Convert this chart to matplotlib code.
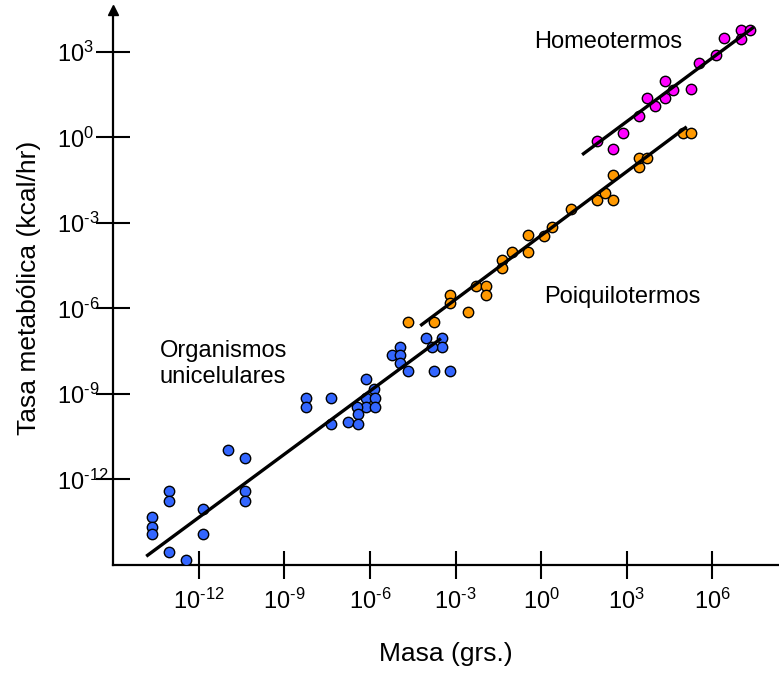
import numpy as np
import matplotlib
matplotlib.use("Agg")
import matplotlib.pyplot as plt

plt.rcParams['font.family'] = ['Liberation Sans', 'DejaVu Sans']
plt.rcParams['mathtext.fontset'] = 'custom'
plt.rcParams['mathtext.rm'] = 'Liberation Sans'
plt.rcParams['mathtext.default'] = 'regular'

# log10 of mass (g) and metabolic rate (kcal/hr)
uni_mass = [-10.98, -10.39, -13.05, -13.05, -10.39, -10.39, -11.86, -13.65, -13.65, -13.65,
            -11.86, -13.05, -12.46, -8.25, -8.25, -7.38, -6.15, -5.87, -6.15, -5.84,
            -6.15, -5.84, -6.47, -6.43, -6.78, -6.43, -7.38, -4.96, -5.24, -4.96,
            -4.96, -4.65, -4.05, -3.49, -3.49, -3.81, -3.77, -3.18]
uni_rate = [-10.95, -11.23, -12.42, -12.74, -12.42, -12.74, -13.02, -13.33, -13.65, -13.93,
            -13.93, -14.56, -14.84, -9.13, -9.44, -9.13, -8.49, -8.81, -9.13, -9.13,
            -9.44, -9.44, -9.44, -9.69, -10.00, -10.04, -10.04, -7.34, -7.62, -7.62,
            -7.90, -8.21, -7.02, -7.02, -7.34, -7.34, -8.21, -8.21]

poi_mass = [-4.65, -3.77, -2.58, -3.18, -3.18, -2.27, -1.95, -1.95, -1.36, -1.36,
            -1.04, -0.48, -0.48, 0.11, 0.39, 1.03, 1.94, 2.25, 2.53, 2.53,
            3.41, 3.41, 3.72, 4.95, 5.26]
poi_rate = [-6.46, -6.46, -6.11, -5.52, -5.80, -5.20, -5.20, -5.52, -4.29, -4.57,
            -4.01, -4.01, -3.41, -3.45, -3.13, -2.50, -2.19, -1.94, -2.19, -1.31,
            -1.03, -0.71, -0.71, 0.16, 0.16]

hom_mass = [1.94, 2.50, 2.85, 3.41, 3.72, 4.00, 4.32, 4.32, 4.63, 5.23,
            5.51, 6.14, 6.42, 7.01, 7.33, 7.01]
hom_rate = [-0.12, -0.40, 0.16, 0.76, 1.39, 1.11, 1.39, 1.99, 1.67, 1.70,
            2.62, 2.90, 3.49, 3.77, 3.77, 3.46]

# fitted lines (log10 endpoints)
uni_fit_x = [-13.79, -3.56]
uni_fit_y = [-14.66, -7.09]
poi_fit_x = [-4.19, 5.05]
poi_fit_y = [-6.57, 0.34]
hom_fit_x = [1.48, 7.40]
hom_fit_y = [-0.57, 3.84]

ticks = [-12, -9, -6, -3, 0, 3, 6]
ytick_vals = [-12, -9, -6, -3, 0, 3]

fig = plt.figure(figsize=(7.79, 6.73), dpi=100)
ax = fig.add_axes([0.1451, 0.1605, 0.8549, 0.8245])
ax.set_xscale('log')
ax.set_yscale('log')

groups = [(uni_mass, uni_rate, '#3366ff'),
          (poi_mass, poi_rate, '#ff9900'),
          (hom_mass, hom_rate, '#ff00ff')]
for mx, ry, col in groups:
    ax.scatter(10.0 ** np.array(mx), 10.0 ** np.array(ry), s=56, color=col,
               edgecolor='black', linewidth=1.0, zorder=3)

for fx, fy in [(uni_fit_x, uni_fit_y), (poi_fit_x, poi_fit_y), (hom_fit_x, hom_fit_y)]:
    ax.plot(10.0 ** np.array(fx), 10.0 ** np.array(fy), color='black', lw=2.4, zorder=4)

ax.set_xlim(10.0 ** -15, 10.0 ** 8.33)
ax.set_ylim(10.0 ** -15, 10.0 ** 4.47)


def pow_label(t):
    return '10$^{\\text{%d}}$' % t


ax.set_xticks([10.0 ** t for t in ticks])
ax.set_xticklabels([pow_label(t) for t in ticks])
ax.set_yticks([10.0 ** t for t in ytick_vals])
ax.set_yticklabels([pow_label(t) for t in ytick_vals], ha='left')
ax.minorticks_off()
ax.tick_params(axis='x', direction='inout', length=20, width=1.5, labelsize=17, pad=7)
ax.tick_params(axis='y', direction='inout', length=24, width=1.5, labelsize=17, pad=28)

for side in ['top', 'right']:
    ax.spines[side].set_visible(False)
for side in ['left', 'bottom']:
    ax.spines[side].set_linewidth(1.6)

# arrow head on the y axis
ax.plot([0], [1], marker='^', color='black', markersize=7,
        transform=ax.transAxes, clip_on=False)

ax.set_xlabel('Masa (grs.)', fontsize=19, labelpad=20)
ax.set_ylabel('Tasa metabólica (kcal/hr)', fontsize=19, labelpad=12)

ax.text(10.0 ** -0.24, 10.0 ** 3.14, 'Homeotermos', fontsize=17, va='baseline')
ax.text(10.0 ** 0.11, 10.0 ** -5.80, 'Poiquilotermos', fontsize=17, va='baseline')
ax.text(10.0 ** -13.37, 10.0 ** -7.69, 'Organismos', fontsize=17, va='baseline')
ax.text(10.0 ** -13.37, 10.0 ** -8.60, 'unicelulares', fontsize=17, va='baseline')

fig.savefig('out.png', dpi=100)
